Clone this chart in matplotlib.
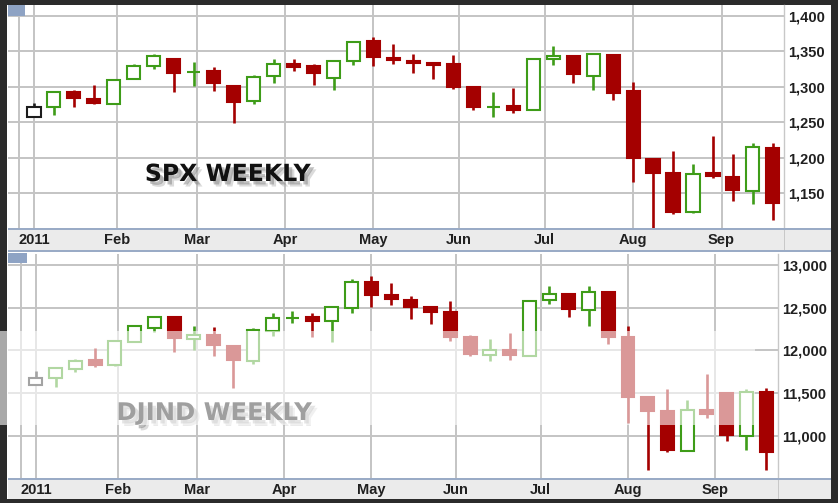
import matplotlib
matplotlib.use("Agg")
import matplotlib.pyplot as plt
import matplotlib.dates as mdates
import matplotlib.patheffects as pe
from matplotlib.patches import Rectangle
import pandas as pd

# ---------------- data ----------------
week_dates = pd.date_range("2011-01-03", periods=38, freq="7D")

spx_open = [1258, 1271, 1293, 1283, 1276, 1311, 1329, 1340, 1321, 1322, 1302, 1280, 1315,
            1332, 1329, 1313, 1337, 1365, 1341, 1336, 1334, 1332, 1300, 1271, 1273, 1268,
            1339, 1343, 1315, 1345, 1294, 1199, 1178, 1123, 1178, 1173, 1153, 1214]
spx_high = [1278, 1293, 1296, 1303, 1311, 1332, 1346, 1340, 1335, 1328, 1302, 1317, 1339,
            1339, 1333, 1337, 1364, 1371, 1360, 1347, 1334, 1345, 1300, 1293, 1299, 1340,
            1357, 1343, 1347, 1346, 1307, 1199, 1209, 1191, 1231, 1205, 1221, 1221]
spx_low = [1258, 1261, 1271, 1276, 1276, 1311, 1325, 1293, 1302, 1294, 1249, 1276, 1305,
           1322, 1303, 1295, 1331, 1329, 1332, 1319, 1311, 1297, 1268, 1258, 1263, 1267,
           1331, 1306, 1295, 1282, 1166, 1101, 1121, 1122, 1171, 1139, 1135, 1113]
spx_close = [1271, 1293, 1284, 1277, 1310, 1329, 1343, 1320, 1321, 1305, 1279, 1314, 1332,
             1328, 1320, 1337, 1364, 1342, 1338, 1334, 1331, 1300, 1271, 1272, 1268, 1339,
             1344, 1318, 1346, 1292, 1200, 1179, 1124, 1177, 1175, 1154, 1216, 1137]

dji_open = [11590, 11676, 11785, 11890, 11828, 12093, 12260, 12389, 12132, 12182, 12054, 11870,
            12229, 12377, 12389, 12338, 12501, 12805, 12650, 12591, 12513, 12447, 12151, 11949,
            12007, 11937, 12591, 12657, 12474, 12688, 12151, 11450, 11286, 10819, 11306, 11501,
            11002, 11512]
dji_high = [11755, 11805, 11900, 12027, 12104, 12296, 12389, 12389, 12287, 12268, 12054, 12260,
            12436, 12455, 12443, 12506, 12833, 12875, 12786, 12638, 12520, 12572, 12182, 12132,
            12209, 12583, 12755, 12657, 12755, 12688, 12287, 11450, 11548, 11423, 11727, 11501,
            11548, 11559]
dji_low = [11590, 11567, 11745, 11800, 11820, 12093, 12210, 11980, 12007, 11929, 11559, 11840,
           12171, 12319, 12155, 12097, 12436, 12513, 12533, 12365, 12307, 12112, 11929, 11870,
           11882, 11937, 12544, 12396, 12287, 12077, 11154, 10605, 10807, 10819, 11209, 10936,
           10839, 10605]
dji_close = [11675, 11793, 11870, 11832, 12104, 12280, 12389, 12144, 12182, 12065, 11882, 12233,
             12377, 12380, 12349, 12506, 12805, 12650, 12599, 12513, 12447, 12155, 11960, 12000,
             11949, 12583, 12657, 12486, 12688, 12155, 11454, 11294, 10830, 11298, 11259, 11014,
             11508, 10807]

month_ticks = ["2011-01-03", "2011-02-01", "2011-03-01", "2011-04-01", "2011-05-02",
               "2011-06-01", "2011-07-01", "2011-08-01", "2011-09-01"]
month_labels = ["2011", "Feb", "Mar", "Apr", "May", "Jun", "Jul", "Aug", "Sep"]

spx_ticks = [1150, 1200, 1250, 1300, 1350, 1400]
dji_ticks = [11000, 11500, 12000, 12500, 13000]

# ---------------- style ----------------
W, H = 838, 503
RED = "#a40000"
GREEN = "#3e9c18"
BLACK = "#1c1c1c"
GRID = "#c4c4c4"
FRAME = "#2b2b2b"
TAB = "#8ea3c4"
AXLINE = "#9aabc6"
LABEL_FONT = dict(family=["Liberation Sans", "DejaVu Sans"], weight="bold", size=10.5)

fig = plt.figure(figsize=(W / 100, H / 100), dpi=100)
fig.patch.set_facecolor(FRAME)


def fig_rect(x0, y0, x1, y1, **kw):
    """rectangle in pixel coords (top-left origin)"""
    r = Rectangle((x0 / W, 1 - y1 / H), (x1 - x0) / W, (y1 - y0) / H,
                  transform=fig.transFigure, **kw)
    fig.add_artist(r)
    return r


# white widget background inside frame
fig_rect(7, 5, 831, 499, facecolor="white", edgecolor="none", zorder=-3)
# x-axis bands
fig_rect(8, 229, 831, 251, facecolor="#ebebeb", edgecolor="none", zorder=-2)
fig_rect(8, 479, 831, 499, facecolor="#ebebeb", edgecolor="none", zorder=-2)
for yy in (229, 251, 479):
    fig_rect(8, yy - 0.7, 831, yy + 0.7, facecolor=AXLINE, edgecolor="none", zorder=3)
fig_rect(784, 229, 785, 251, facecolor="#c8c8c8", edgecolor="none", zorder=-1)
fig_rect(778, 479, 779, 499, facecolor="#c8c8c8", edgecolor="none", zorder=-1)

bw = 4.6  # candle body width in days


def draw_candles(ax, dates, o, h, l, c):
    xs = mdates.date2num(dates)
    for i in range(len(xs)):
        if i == 0:
            col = BLACK
        else:
            col = GREEN if c[i] >= c[i - 1] else RED
        ax.vlines(xs[i], l[i], h[i], color=col, lw=1.9, zorder=3)
        lo, hi = min(o[i], c[i]), max(o[i], c[i])
        filled = c[i] < o[i]
        ax.add_patch(Rectangle((xs[i] - bw / 2, lo), bw, hi - lo,
                               facecolor=col if filled else "white",
                               edgecolor=col, lw=1.5, zorder=4))


def setup_axes(ax, yticks, x_left, x_right, ylim):
    d0 = mdates.date2num(pd.Timestamp("2011-01-03"))
    ax.set_xlim(d0 + x_left, d0 + x_right)
    ax.set_ylim(*ylim)
    ax.set_facecolor("white")
    ax.set_xticks(mdates.date2num(pd.to_datetime(month_ticks)))
    ax.set_xticklabels(month_labels, **LABEL_FONT, color="#202020")
    ax.set_yticks(yticks)
    ax.set_yticklabels([f"{v:,}" for v in yticks], **LABEL_FONT, color="#202020")
    ax.yaxis.tick_right()
    ax.tick_params(axis="y", length=0, pad=3)
    ax.tick_params(axis="x", length=0, pad=3)
    ax.grid(True, color=GRID, lw=1.4)
    ax.set_axisbelow(True)
    ax.axvline(d0 - 5.3, color=GRID, lw=1.4, zorder=0.5)
    for s in ("top", "left", "bottom"):
        ax.spines[s].set_visible(False)
    ax.spines["right"].set_color("#c8c8c8")
    ax.spines["right"].set_linewidth(1.0)


# top panel (SPX)
ax1 = fig.add_axes([8 / W, 1 - 229 / H, 776 / W, 224 / H])
setup_axes(ax1, spx_ticks, -9.1, 262.9, (1099.7, 1415.5))
draw_candles(ax1, week_dates, spx_open, spx_high, spx_low, spx_close)

# bottom panel (DJIND)
ax2 = fig.add_axes([8 / W, 1 - 479 / H, 770 / W, 225 / H])
setup_axes(ax2, dji_ticks, -9.9, 263.2, (10494, 13128))
draw_candles(ax2, week_dates, dji_open, dji_high, dji_low, dji_close)

# blue tabs at top-left of each panel
fig_rect(8, 5, 25, 16, facecolor=TAB, edgecolor="none", zorder=5)
fig_rect(8, 253, 27, 263, facecolor=TAB, edgecolor="none", zorder=5)

# titles with soft shadow
shadow = [pe.SimplePatchShadow(offset=(4, -4), shadow_rgbFace="#b0b0b0", alpha=0.45),
          pe.SimplePatchShadow(offset=(2.5, -2.5), shadow_rgbFace="#8a8a8a", alpha=0.55),
          pe.Normal()]
fig.text(228 / W, 1 - 174 / H, "SPX WEEKLY", ha="center", va="center",
         family="DejaVu Sans", weight="bold", size=17, color="#111111",
         path_effects=shadow, zorder=20)
fig.text(214 / W, 1 - 413 / H, "DJIND WEEKLY", ha="center", va="center",
         family="DejaVu Sans", weight="bold", size=17.5, color="#111111",
         path_effects=shadow, zorder=20)

# translucent white band over the lower panel
fig_rect(0, 331, 755, 425, facecolor="white", edgecolor="none", alpha=0.6, zorder=50)

fig.savefig("out.png", dpi=100, facecolor=fig.get_facecolor())
